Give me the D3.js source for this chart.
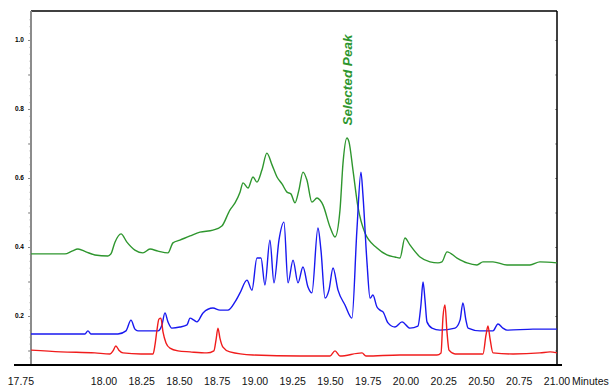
<!DOCTYPE html>
<html>
<head>
<meta charset="utf-8">
<script src="https://cdn.jsdelivr.net/npm/d3@7"></script>
<style>
    body { margin: 0; background: white; }
</style>
</head>
<body>
<div id="canvas"></div>
<script>
"use strict"

let svgWidth = 611
let svgHeight = 387

/* plot box in pixels */
let box = { left: 31, right: 557, top: 11, bottom: 365 }

/* traces: [minutes, absorbance] */
let greenTrace = [
    [17.517, 0.380], [17.642, 0.380], [17.742, 0.380], [17.788, 0.388], [17.828, 0.394],
    [17.881, 0.386], [17.940, 0.377], [18.026, 0.374], [18.046, 0.380], [18.073, 0.414],
    [18.113, 0.438], [18.152, 0.414], [18.205, 0.391], [18.258, 0.383], [18.305, 0.394],
    [18.358, 0.388], [18.424, 0.383], [18.457, 0.412], [18.503, 0.420], [18.570, 0.432],
    [18.636, 0.443], [18.722, 0.449], [18.781, 0.461], [18.834, 0.507], [18.868, 0.528],
    [18.901, 0.559], [18.921, 0.586], [18.954, 0.571], [18.987, 0.603], [19.013, 0.588],
    [19.046, 0.623], [19.079, 0.672], [19.113, 0.638], [19.146, 0.603], [19.179, 0.583],
    [19.212, 0.559], [19.238, 0.554], [19.265, 0.528], [19.291, 0.565], [19.318, 0.617],
    [19.344, 0.594], [19.377, 0.530], [19.411, 0.542], [19.430, 0.536], [19.450, 0.522],
    [19.497, 0.458], [19.530, 0.429], [19.563, 0.507], [19.583, 0.643], [19.609, 0.716],
    [19.623, 0.704], [19.649, 0.623], [19.682, 0.516], [19.728, 0.441], [19.808, 0.397],
    [19.874, 0.377], [19.927, 0.371], [19.960, 0.368], [19.993, 0.426], [20.026, 0.406],
    [20.093, 0.371], [20.159, 0.357], [20.212, 0.354], [20.238, 0.357], [20.272, 0.386],
    [20.338, 0.368], [20.404, 0.354], [20.470, 0.348], [20.510, 0.357], [20.576, 0.357],
    [20.669, 0.348], [20.821, 0.348], [20.887, 0.357], [21.000, 0.354]
]

let blueTrace = [
    [17.517, 0.148], [17.709, 0.148], [17.874, 0.148], [17.894, 0.157], [17.914, 0.148],
    [18.093, 0.148], [18.146, 0.157], [18.179, 0.188], [18.205, 0.162], [18.225, 0.157],
    [18.358, 0.157], [18.384, 0.174], [18.404, 0.209], [18.424, 0.183], [18.450, 0.165],
    [18.503, 0.168], [18.550, 0.174], [18.570, 0.194], [18.596, 0.188], [18.616, 0.183],
    [18.656, 0.209], [18.722, 0.223], [18.768, 0.217], [18.821, 0.217], [18.868, 0.241],
    [18.901, 0.267], [18.947, 0.304], [18.980, 0.275], [19.013, 0.368], [19.040, 0.368],
    [19.066, 0.290], [19.099, 0.420], [19.126, 0.296], [19.159, 0.420], [19.192, 0.472],
    [19.219, 0.296], [19.252, 0.362], [19.285, 0.296], [19.318, 0.342], [19.351, 0.284],
    [19.377, 0.267], [19.417, 0.455], [19.437, 0.391], [19.464, 0.252], [19.490, 0.275],
    [19.517, 0.339], [19.550, 0.275], [19.596, 0.232], [19.642, 0.194], [19.675, 0.449],
    [19.702, 0.617], [19.715, 0.551], [19.742, 0.354], [19.762, 0.252], [19.781, 0.261],
    [19.808, 0.226], [19.828, 0.217], [19.848, 0.212], [19.881, 0.180], [19.927, 0.168],
    [19.974, 0.183], [20.026, 0.165], [20.079, 0.171], [20.099, 0.232], [20.113, 0.299],
    [20.126, 0.246], [20.139, 0.183], [20.172, 0.165], [20.225, 0.159], [20.325, 0.165],
    [20.358, 0.188], [20.377, 0.238], [20.397, 0.188], [20.411, 0.165], [20.490, 0.157],
    [20.576, 0.157], [20.609, 0.177], [20.642, 0.165], [20.669, 0.159], [20.841, 0.162],
    [21.000, 0.162]
]

let redTrace = [
    [17.517, 0.101], [17.715, 0.096], [17.940, 0.093], [18.040, 0.090], [18.060, 0.099],
    [18.079, 0.113], [18.099, 0.101], [18.126, 0.093], [18.245, 0.090], [18.325, 0.090],
    [18.338, 0.116], [18.351, 0.159], [18.364, 0.191], [18.377, 0.194], [18.391, 0.154],
    [18.411, 0.122], [18.437, 0.107], [18.490, 0.099], [18.570, 0.096], [18.682, 0.093],
    [18.728, 0.099], [18.742, 0.130], [18.755, 0.165], [18.768, 0.136], [18.788, 0.110],
    [18.834, 0.096], [18.987, 0.087], [19.298, 0.084], [19.497, 0.084], [19.530, 0.099],
    [19.563, 0.084], [19.709, 0.093], [19.735, 0.084], [19.960, 0.087], [20.205, 0.087],
    [20.232, 0.093], [20.245, 0.197], [20.258, 0.232], [20.272, 0.151], [20.285, 0.101],
    [20.325, 0.090], [20.510, 0.090], [20.530, 0.145], [20.543, 0.171], [20.556, 0.136],
    [20.576, 0.093], [20.709, 0.090], [20.887, 0.093], [20.954, 0.096], [21.000, 0.093]
]

/* x tick labels; the first label sits left of the plot start like in the original */
let xTickValues = [17.45, 18.00, 18.25, 18.50, 18.75, 19.00, 19.25, 19.50, 19.75, 20.00, 20.25, 20.50, 20.75, 21.00]
let xTickLabels = ["17.75", "18.00", "18.25", "18.50", "18.75", "19.00", "19.25", "19.50", "19.75", "20.00", "20.25", "20.50", "20.75", "21.00"]
let yTickValues = [0.2, 0.4, 0.6, 0.8, 1.0]
let yTickLabels = ["0.2", "0.4", "0.6", "0.8", "1.0"]

let traceColors = ["#2e962e", "#1818f0", "#f01c1c"]

/*Create drawing canvas*/
let svg = d3.select("#canvas")
    .append("svg")
    .attr("width", svgWidth)
    .attr("height", svgHeight)
    .style("font-family", "Arial, 'Liberation Sans', sans-serif")

let xScale = d3.scaleLinear()
    .domain([17.517, 21.0])
    .range([box.left, box.right])

let yScale = d3.scaleLinear()
    .domain([0.058, 1.084])
    .range([box.bottom, box.top])

/* top border */
svg.append("line")
    .attr("x1", box.left).attr("x2", box.right)
    .attr("y1", box.top).attr("y2", box.top)
    .attr("stroke", "black")
    .attr("stroke-width", 1.5)

/* right border with small ticks */
svg.append("g")
    .attr("transform", `translate(${box.right},0)`)
    .call(d3.axisLeft(yScale).tickValues(d3.range(0.1, 1.09, 0.1)).tickSize(2).tickFormat(""))
    .call(g => g.select(".domain").remove())
    .call(g => g.selectAll(".tick line").attr("stroke", "#999"))
svg.append("line")
    .attr("x1", box.right).attr("x2", box.right)
    .attr("y1", box.top).attr("y2", box.bottom)
    .attr("stroke", "black")
    .attr("stroke-width", 1.5)

/* y axis: minor ticks, major ticks, gray spine */
svg.append("g")
    .attr("transform", `translate(${box.left},0)`)
    .call(d3.axisLeft(yScale).tickValues(d3.range(0.06, 1.08, 0.02)).tickSize(1.5).tickFormat(""))
    .call(g => g.select(".domain").remove())
    .call(g => g.selectAll(".tick line").attr("stroke", "#aaa"))

svg.append("g")
    .attr("transform", `translate(${box.left},0)`)
    .call(d3.axisLeft(yScale).tickValues(d3.range(0.1, 1.09, 0.1)).tickSize(3).tickFormat(""))
    .call(g => g.select(".domain").remove())
    .call(g => g.selectAll(".tick line").attr("stroke", "#888"))

svg.append("line")
    .attr("x1", box.left).attr("x2", box.left)
    .attr("y1", box.top).attr("y2", box.bottom)
    .attr("stroke", "#8c8c8c")
    .attr("stroke-width", 2)

/* y labels */
svg.selectAll("text.yLabel")
    .data(yTickValues)
    .join("text")
    .classed("yLabel", true)
    .attr("x", 24)
    .attr("y", d => yScale(d))
    .attr("dy", "0.35em")
    .attr("text-anchor", "end")
    .style("font-size", "6.5px")
    .style("font-weight", "bold")
    .text((d, i) => yTickLabels[i])

/* traces */
let line = d3.line()
    .x(d => xScale(d[0]))
    .y(d => yScale(d[1]))
    .curve(d3.curveMonotoneX)

let traces = [greenTrace, blueTrace, redTrace]
svg.selectAll("path.trace")
    .data(traces)
    .join("path")
    .classed("trace", true)
    .attr("d", d => line(d))
    .attr("fill", "none")
    .attr("stroke", (d, i) => traceColors[i])
    .attr("stroke-width", 1.4)
    .attr("stroke-linejoin", "round")

/* bottom axis line */
svg.append("line")
    .attr("x1", 14).attr("x2", 562)
    .attr("y1", box.bottom).attr("y2", box.bottom)
    .attr("stroke", "black")
    .attr("stroke-width", 2)

/* x labels */
svg.selectAll("text.xLabel")
    .data(xTickValues)
    .join("text")
    .classed("xLabel", true)
    .attr("x", d => xScale(d))
    .attr("y", 385)
    .attr("text-anchor", "middle")
    .style("font-size", "10.5px")
    .style("fill", "#111")
    .text((d, i) => xTickLabels[i])

svg.append("text")
    .attr("x", xScale(21.0) + 15)
    .attr("y", 385)
    .style("font-size", "10.5px")
    .style("fill", "#111")
    .text("Minutes")

/* peak annotation */
svg.append("text")
    .attr("transform", `translate(${xScale(19.6) + 6},80) rotate(-90)`)
    .attr("text-anchor", "middle")
    .style("font-size", "13.5px")
    .style("font-weight", "bold")
    .style("font-style", "italic")
    .style("fill", traceColors[0])
    .text("Selected Peak")
</script>
</body>
</html>
